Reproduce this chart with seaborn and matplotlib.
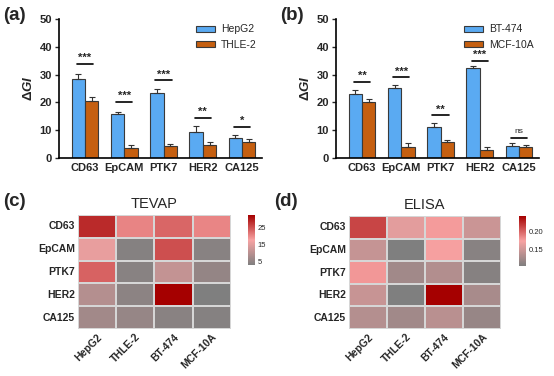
import numpy as np
import pandas as pd
import seaborn as sns
import matplotlib.pyplot as plt
from matplotlib.colors import LinearSegmentedColormap

sns.set_style("ticks")
plt.rcParams['font.family'] = ['Liberation Sans', 'DejaVu Sans']
plt.rcParams['mathtext.fontset'] = 'custom'
plt.rcParams['mathtext.rm'] = 'Liberation Sans:bold'
plt.rcParams['mathtext.it'] = 'Liberation Sans:bold:italic'

markers = ["CD63", "EpCAM", "PTK7", "HER2", "CA125"]
cells = ["HepG2", "THLE-2", "BT-474", "MCF-10A"]

# panel (a)
hepg2 = [28.5, 15.8, 23.4, 9.5, 7.3]
hepg2_err = [1.7, 0.9, 1.5, 2.0, 1.1]
thle2 = [20.4, 3.7, 4.2, 4.7, 5.8]
thle2_err = [1.7, 0.9, 0.8, 1.2, 0.9]
sig_a = ["***", "***", "***", "**", "*"]
sig_a_y = [33.8, 20.3, 28.0, 14.4, 11.3]

# panel (b)
bt474 = [23.1, 25.2, 11.3, 32.3, 4.3]
bt474_err = [1.2, 0.9, 1.4, 0.8, 1.0]
mcf10a = [20.3, 4.1, 5.6, 3.0, 3.8]
mcf10a_err = [0.9, 1.4, 0.8, 1.0, 0.8]
sig_b = ["**", "***", "**", "***", "ns"]
sig_b_y = [27.5, 29.0, 15.4, 35.1, 7.3]

# panel (c) TEVAP heatmap (rows markers, cols cells)
tevap = [[28.5, 20.4, 23.1, 20.3],
         [15.8, 3.7, 25.2, 4.1],
         [23.4, 4.2, 11.3, 5.6],
         [9.5, 4.7, 32.3, 3.0],
         [7.3, 5.8, 4.3, 3.8]]

# panel (d) ELISA heatmap
elisa = [[0.215, 0.162, 0.178, 0.148],
         [0.145, 0.104, 0.176, 0.110],
         [0.180, 0.124, 0.134, 0.108],
         [0.146, 0.104, 0.245, 0.128],
         [0.135, 0.124, 0.138, 0.118]]

blue = "#5aaaf2"
orange = "#c55f10"

fig = plt.figure(figsize=(5.54, 3.76), dpi=100)


def bar_panel(ax, s1, e1, s2, e2, names, sig, sig_y, tag):
    df = pd.DataFrame({"marker": markers * 2,
                       "val": s1 + s2,
                       "cell": [names[0]] * 5 + [names[1]] * 5})
    sns.barplot(data=df, x="marker", y="val", hue="cell", ax=ax,
                palette=[blue, orange], width=0.68, errorbar=None,
                edgecolor="#3a3a3a", linewidth=0.8, saturation=1)
    for cont, errs in zip(ax.containers, [e1, e2]):
        for bar, err in zip(cont, errs):
            x = bar.get_x() + bar.get_width() / 2
            ax.errorbar(x, bar.get_height(), yerr=[[0], [err]], fmt="none",
                        ecolor="#333333", elinewidth=0.8, capsize=2.5,
                        capthick=0.8)
    for i, (s, y) in enumerate(zip(sig, sig_y)):
        ax.plot([i - 0.21, i + 0.21], [y, y], color="black", lw=1.2)
        if s == "ns":
            ax.text(i, y + 1.0, s, ha="center", va="bottom", fontsize=6)
        else:
            ax.text(i, y + 0.3, s, ha="center", va="bottom", fontsize=8,
                    fontweight="bold")
    ax.set_ylim(0, 50)
    ax.set_xlim(-0.66, 4.5)
    ax.set_yticks(range(0, 51, 10))
    ax.set_xlabel("")
    ax.set_ylabel(r"$\Delta\mathit{GI}$", fontsize=9.5, labelpad=3)
    ax.tick_params(axis="x", length=0, labelsize=8, pad=4)
    ax.tick_params(axis="y", length=3, width=1, labelsize=8, pad=2)
    for lab in ax.get_xticklabels() + ax.get_yticklabels():
        lab.set_fontweight("bold")
    sns.despine(ax=ax)
    for sp in ["left", "bottom"]:
        ax.spines[sp].set_linewidth(1.2)
        ax.spines[sp].set_color("black")
    ax.legend(loc="upper right", frameon=False, fontsize=7.5,
              handlelength=1.8, handleheight=0.5, borderaxespad=0.1,
              labelspacing=0.5, handletextpad=0.6)
    fig.text(ax.get_position().x0 - 0.1, 0.958, tag, fontsize=13.5,
             fontweight="bold", va="center")


ax_a = fig.add_axes([0.1065, 0.58, 0.366, 0.369])
bar_panel(ax_a, hepg2, hepg2_err, thle2, thle2_err, ["HepG2", "THLE-2"],
          sig_a, sig_a_y, "(a)")
ax_b = fig.add_axes([0.6065, 0.58, 0.366, 0.369])
bar_panel(ax_b, bt474, bt474_err, mcf10a, mcf10a_err, ["BT-474", "MCF-10A"],
          sig_b, sig_b_y, "(b)")

cmap = LinearSegmentedColormap.from_list("gr", ["#7f7f7f", "#f8a3a3", "#a50000"])


def heat_panel(ax, cax, vals, title, ticks, fmt, tag):
    df = pd.DataFrame(vals, index=markers, columns=cells)
    sns.heatmap(df, ax=ax, cbar_ax=cax, cmap=cmap, linewidths=1.2,
                linecolor="#d6d6d6", cbar_kws={"ticks": ticks})
    ax.set_title(title, fontsize=10.5, pad=5)
    ax.tick_params(length=0, labelsize=7.5, pad=2)
    ax.set_xticklabels(cells, rotation=45, ha="right", rotation_mode="anchor",
                       fontweight="bold")
    ax.set_yticklabels(markers, rotation=0, fontweight="bold")
    cax.tick_params(direction="in", color="white", length=2.5, width=0.8,
                    labelsize=5.5, pad=2)
    cax.set_yticklabels([fmt.format(t) for t in ticks])
    for sp in cax.spines.values():
        sp.set_visible(False)
    fig.text(ax.get_position().x0 - 0.135, 0.465, tag, fontsize=13.5,
             fontweight="bold", va="center")


ax_c = fig.add_axes([0.1408, 0.125, 0.276, 0.303])
cax_c = fig.add_axes([0.4477, 0.295, 0.0126, 0.133])
heat_panel(ax_c, cax_c, tevap, "TEVAP", [5, 15, 25], "{:.0f}", "(c)")

ax_d = fig.add_axes([0.630, 0.125, 0.274, 0.30])
cax_d = fig.add_axes([0.937, 0.2926, 0.0117, 0.133])
heat_panel(ax_d, cax_d, elisa, "ELISA", [0.15, 0.20], "{:.2f}", "(d)")

fig.savefig("out.png", dpi=100)
